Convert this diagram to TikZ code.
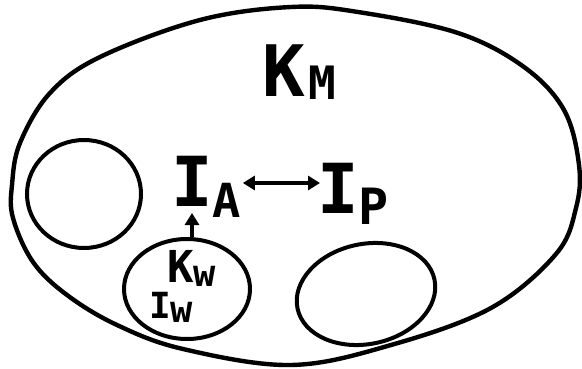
\documentclass[tikz,border=0pt]{standalone}
\usepackage{fontspec}
\setmainfont{DejaVu Sans Mono}
\usetikzlibrary{shapes.geometric,arrows.meta,calc}
\newcommand{\fs}[1]{\fontsize{#1}{#1}\selectfont}
\newcommand{\sub}[3]{\raisebox{-#1pt}{\fs{#2}#3}}
\begin{document}
\begin{tikzpicture}[x=1pt,y=-1pt,
  blob/.style={line width=4.4pt},
  ring/.style={draw,ellipse,line width=4pt,inner sep=0pt},
  lbl/.style={anchor=base west,inner sep=0pt,outer sep=0pt,font=\bfseries},
  con/.style={line width=4pt,{Triangle[length=12pt,width=14pt]}-{Triangle[length=12pt,width=14pt]}},
  up/.style={line width=4pt,-{Triangle[length=12pt,width=14pt]}}]
\useasboundingbox (0,0) rectangle (582,369);
% outer region
\draw[blob] plot[smooth cycle,tension=0.6] coordinates {
 (291,7) (358,12) (458,33) (524,67) (564,110) (579,165) (576,208) (556,254)
 (491,308) (391,345) (291,365) (183,349) (117,325) (67,295) (33,262)
 (13,218) (12,185) (20,143) (50,93) (100,57) (200,20)};
% inner regions
\node[ring,minimum width=114pt,minimum height=108pt] (left) at (84,194) {};
\node[ring,minimum width=126pt,minimum height=100pt] (kwell) at (187,289) {};
\node[ring,minimum width=140pt,minimum height=100pt,rotate=12] (right) at (366,294) {};
% labels
\node[lbl] (km) at (262,97) {\fs{71}K\hspace{4pt}\sub{3}{46}{M}};
\node[lbl] (ia) at (171,207) {\fs{69}I\sub{10}{47}{A}};
\node[lbl] (ip) at (317,214) {\fs{69}I\sub{11}{50}{P}};
\node[lbl] (kw) at (167,282) {\fs{44}K\sub{4}{37}{w}};
\node[lbl] (iw) at (149,318) {\fs{36}I\sub{4}{37}{w}};
% connectors
\draw[con] ($(ia.base east)+(2,-24)$) -- ($(ip.base west)+(3,-31)$);
\draw[up] ($(kwell.north -| ia.base west)+(21,0)$) -- ($(ia.base west)+(21,6)$);
\end{tikzpicture}
\end{document}
